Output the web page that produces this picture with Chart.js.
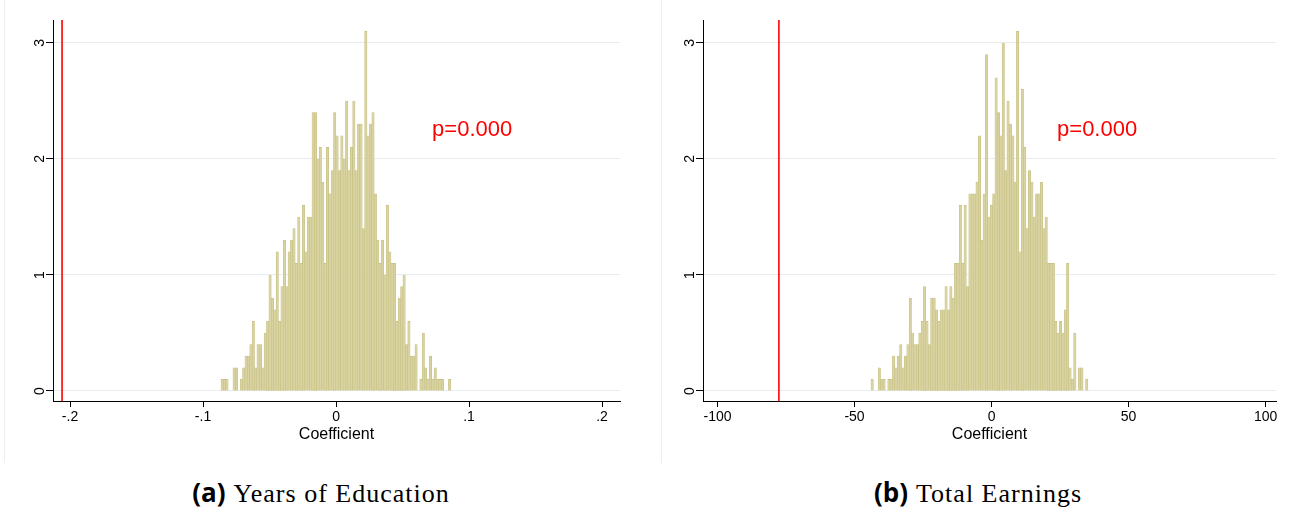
<!DOCTYPE html>
<html>
<head>
<meta charset="utf-8">
<script src="https://cdn.jsdelivr.net/npm/chart.js@4.4.0/dist/chart.umd.min.js"></script>
<style>
  body { margin: 0; background: #fff; width: 1291px; height: 516px; position: relative; overflow: hidden; }
  canvas { position: absolute; top: 0; }
  .edge { position: absolute; top: 0; height: 463px; width: 1px; background: #eceef0; }
  .cap { position: absolute; top: 474px; width: 400px; text-align: center; white-space: nowrap; color: #000; }
  .cap b { font-family: 'Open Sans', sans-serif; font-weight: 700; font-size: 26px; margin-right: 8px; }
  .cap span { font-family: 'Liberation Serif', serif; font-size: 26px; letter-spacing: 1px; }
</style>
</head>
<body>
<div class="edge" style="left:4px"></div>
<div class="edge" style="left:661px"></div>
<canvas id="eduChart" width="655" height="465" style="left:5px"></canvas>
<canvas id="earnChart" width="636" height="465" style="left:655px"></canvas>
<div class="cap" style="left:121px"><b>(a)</b><span>Years of Education</span></div>
<div class="cap" style="left:778px"><b>(b)</b><span>Total Earnings</span></div>

<script>
// permutation histogram, years of education (density per bin)
var eduBinStart = -0.0865;
var eduBinWidth = 0.0018;
var eduHeights = [
  0.1, 0.1, 0.1, 0, 0, 0.2, 0.2, 0, 0.1, 0.2,
  0.3, 0.3, 0.4, 0.6, 0.2, 0.4, 0.4, 0.2, 0.5, 0.6,
  1.0, 0.8, 0.7, 1.2, 0.6, 0.9, 1.3, 0.9, 1.2, 1.3,
  1.4, 1.1, 1.5, 1.1, 1.6, 1.2, 1.5, 1.5, 2.4, 2.4,
  2.0, 2.1, 1.8, 1.1, 2.1, 1.7, 1.9, 2.4, 2.2, 1.9,
  2.2, 2.0, 2.5, 1.9, 2.1, 2.5, 1.9, 2.3, 2.3, 1.4,
  3.1, 2.2, 2.3, 2.4, 1.7, 1.3, 1.1, 1.3, 1.0, 1.6,
  1.2, 1.1, 1.1, 0.6, 0.8, 0.9, 1.0, 0.4, 0.6, 0.3,
  0.3, 0.4, 0, 0.1, 0.5, 0.2, 0.1, 0.3, 0.1, 0.2,
  0.1, 0.1, 0.1, 0, 0, 0.1
];
var eduTicks = [-0.2, -0.1, 0, 0.1, 0.2];
var eduObserved = -0.206;

// permutation histogram, total earnings
var earnBinStart = -44.0;
var earnBinWidth = 0.87;
var earnHeights = [
  0.1, 0, 0, 0.2, 0.1, 0.1, 0, 0.1, 0.1, 0.3,
  0.2, 0.3, 0.4, 0.2, 0.3, 0.4, 0.8, 0.5, 0.4, 0.4,
  0.5, 0.6, 0.9, 0.6, 0.4, 0.8, 0.8, 0.7, 0.6, 0.7,
  0.7, 0.9, 0.7, 0.9, 0.8, 1.1, 1.1, 1.6, 1.1, 1.6,
  0.9, 1.7, 1.7, 1.7, 1.8, 2.2, 1.3, 1.7, 2.9, 1.5,
  1.6, 1.7, 2.7, 2.4, 2.2, 3.0, 1.9, 2.5, 2.3, 2.2,
  1.8, 3.1, 1.2, 2.6, 2.1, 1.4, 1.9, 1.8, 1.5, 1.7,
  1.7, 1.8, 1.4, 1.5, 1.1, 1.1, 1.1, 0.6, 0.5, 0.6,
  0.5, 0.7, 1.1, 0.2, 0.1, 0.5, 0, 0.2, 0.2, 0,
  0.1
];
var earnTicks = [-100, -50, 0, 50, 100];
var earnObserved = -77.6;

var yTicks = [0, 1, 2, 3];
var pLabel = 'p=0.000';

var FONT = "'Liberation Sans', Arial, sans-serif";

// red observed line, p-value, rotated y labels and x title
var overlay = {
  id: 'overlay',
  afterDatasetsDraw: function(chart) {
    var o = chart.options.plugins.overlay;
    var ctx = chart.ctx, xs = chart.scales.x, ys = chart.scales.y, a = chart.chartArea;
    ctx.save();
    var px = xs.getPixelForValue(o.observed);
    ctx.strokeStyle = '#ff0000';
    ctx.lineWidth = 1.6;
    ctx.beginPath();
    ctx.moveTo(px, a.top);
    ctx.lineTo(px, a.bottom);
    ctx.stroke();

    ctx.fillStyle = '#ff0000';
    ctx.font = '22px ' + FONT;
    ctx.textAlign = 'left';
    ctx.textBaseline = 'middle';
    ctx.fillText(pLabel, xs.getPixelForValue(o.pX), ys.getPixelForValue(o.pY));

    ctx.fillStyle = '#000';
    ctx.font = '14px ' + FONT;
    ctx.textAlign = 'center';
    yTicks.forEach(function(v) {
      ctx.save();
      ctx.translate(a.left - 13, ys.getPixelForValue(v));
      ctx.rotate(-Math.PI / 2);
      ctx.fillText(String(v), 0, 0);
      ctx.restore();
    });

    ctx.font = '16px ' + FONT;
    ctx.textBaseline = 'middle';
    ctx.fillText('Coefficient', (a.left + a.right) / 2, a.bottom + 34);
    ctx.restore();
  }
};

function makeChart(id, start, width, heights, ticks, xmin, xmax, fmt, observed, pX, padRight) {
  var pts = heights.map(function(h, i) {
    return { x: start + (i + 0.5) * width, y: h };
  });
  return new Chart(document.getElementById(id), {
    type: 'bar',
    data: {
      datasets: [{
        data: pts,
        backgroundColor: '#d8d3a0',
        borderColor: '#c6c083',
        borderWidth: 0.6,
        barPercentage: 1,
        categoryPercentage: 1
      }]
    },
    options: {
      responsive: false,
      animation: false,
      layout: { padding: { left: 0, right: padRight, top: 20, bottom: 0 } },
      plugins: {
        legend: { display: false },
        tooltip: { enabled: false },
        overlay: { observed: observed, pX: pX, pY: 2.25 }
      },
      scales: {
        x: {
          type: 'linear',
          min: xmin,
          max: xmax,
          offset: false,
          afterBuildTicks: function(s) { s.ticks = ticks.map(function(v) { return { value: v }; }); },
          afterFit: function(s) { s.height = 64; },
          grid: { offset: false, drawOnChartArea: false, drawTicks: true, tickLength: 6, tickColor: '#000' },
          border: { display: true, color: '#000', width: 1 },
          ticks: {
            autoSkip: false, maxRotation: 0, padding: 2, color: '#000',
            font: { family: FONT, size: 14 },
            callback: fmt
          }
        },
        y: {
          min: -0.0862,
          max: 3.198,
          afterBuildTicks: function(s) { s.ticks = yTicks.map(function(v) { return { value: v }; }); },
          afterFit: function(s) { s.width = 48; },
          grid: { color: '#e8ecef', lineWidth: 1, drawTicks: true, tickLength: 7, tickColor: '#000' },
          border: { display: true, color: '#000', width: 1 },
          ticks: { display: false }
        }
      }
    },
    plugins: [overlay]
  });
}

makeChart('eduChart', eduBinStart, eduBinWidth, eduHeights, eduTicks, -0.2128, 0.2135,
  function(v) { return v === 0 ? '0' : v.toFixed(1).replace('0.', '.'); },
  eduObserved, 0.0722, 40);

makeChart('earnChart', earnBinStart, earnBinWidth, earnHeights, earnTicks, -105.3, 103.8,
  function(v) { return String(v); },
  earnObserved, 23.9, 15);
</script>
</body>
</html>
